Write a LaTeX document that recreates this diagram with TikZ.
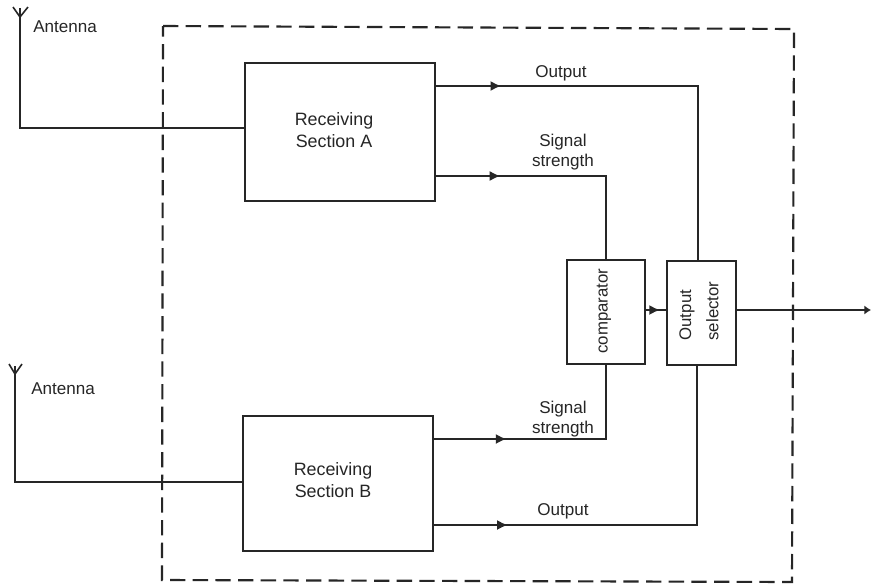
\documentclass[tikz,border=0pt]{standalone}
\usepackage{fontspec}
\setmainfont{Liberation Sans}
\usetikzlibrary{arrows.meta,decorations.markings}
\tikzset{
 wire/.style={line width=1.2pt,black!85},
 box/.style={draw=black!85,line width=1.3pt,fill=white,inner sep=0pt},
 lab/.style={font=\fontsize{12.8pt}{14.5pt}\selectfont,text=black!85,inner sep=0pt,align=center},
 biglab/.style={lab,font=\fontsize{13.4pt}{17pt}\selectfont},
 sidelab/.style={lab,rotate=90,font=\fontsize{12.6pt}{20.5pt}\selectfont},
 arrowed/.style={wire,postaction={decorate},decoration={markings,mark=at position #1 with {\arrow{Latex[length=8pt,width=7.5pt]}}}},
}
\begin{document}
\begin{tikzpicture}[x=0.75pt,y=-0.75pt]
\useasboundingbox (0,0) rectangle (876,587);
\fill[white] (0,0) rectangle (876,587);
% dashed border
\draw[line width=1.6pt,black!85,dash pattern=on 11.5pt off 5.5pt] (163,26) -- (794,29) -- (792,582) -- (162,580) -- cycle;
\coordinate (AntA) at (20,8);
\coordinate (AntB) at (15,366);
% boxes
\node[box,minimum width=0.75*190pt,minimum height=0.75*138pt,anchor=north west] (A) at (244,62) {};
\node[biglab] (Atxt) at (334,130) {Receiving\\Section A};
\node[box,minimum width=0.75*190pt,minimum height=0.75*135pt,anchor=north west] (B) at (242,415) {};
\node[biglab] (Btxt) at (333,480) {Receiving\\Section B};
\node[box,minimum width=0.75*78pt,minimum height=0.75*104pt,anchor=north west] (C) at (566,259) {};
\node[sidelab] (Ctxt) at (604,311) {comparator};
\node[box,minimum width=0.75*69pt,minimum height=0.75*104pt,anchor=north west] (S) at (666,260) {};
\node[sidelab,align=left] (Stxt) at (699,311) {Output\\selector};
% antennas
\draw[wire] (AntA) |- (A.west|-0,128);
\draw[wire] (AntB) |- (B.west|-0,482);
\draw[wire,line join=round] (13,7) -- (20,17) -- (28,7);
\draw[wire,line join=round] (9,364) -- (15,374) -- (22,364);
\node[lab,anchor=west] (l1) at (33,27) {Antenna};
\node[lab,anchor=west] (l2) at (31,389) {Antenna};
% signal paths
\coordinate (o1) at (698,86);
\coordinate (s1) at (606,176);
\coordinate (s2) at (606,439);
\coordinate (o2) at (697,525);
\draw[arrowed=0.15] (A.east|-o1) -- (o1) -- (o1|-S.north);
\draw[arrowed=0.255] (A.east|-s1) -- (s1) -- (s1|-C.north);
\draw[arrowed=0.295] (B.east|-s2) -- (s2) -- (s2|-C.south);
\draw[arrowed=0.175] (B.east|-o2) -- (o2) -- (o2|-S.south);
\draw[arrowed=0.7] (C.east|-0,310) -- (S.west|-0,310);
\coordinate (out) at (871,310);
\draw[wire,-{Latex[length=5pt,width=7pt]}] (S.east|-0,310) -- (out);
\node[lab] (t1) at (561,73) {Output};
\node[lab] (t2) at (563,152) {Signal\\strength};
\node[lab] (t3) at (563,419) {Signal\\strength};
\node[lab] (t4) at (563,511) {Output};
\end{tikzpicture}
\end{document}
